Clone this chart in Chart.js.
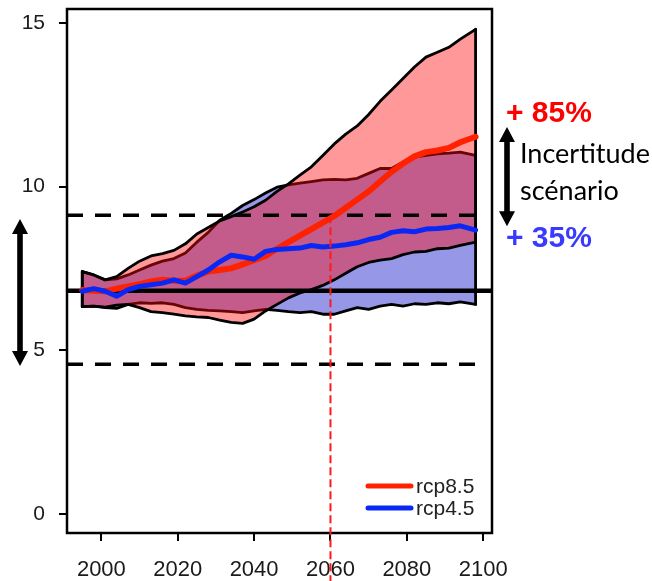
<!DOCTYPE html>
<html><head><meta charset="utf-8">
<script src="https://cdn.jsdelivr.net/npm/chart.js@4"></script>
<style>html,body{margin:0;padding:0;background:#fff}canvas{display:block}</style>
</head><body>
<canvas id="c" width="652" height="581"></canvas>
<script>
// ---- data ----
const years = [1995,1998,2001,2004,2007,2010,2013,2016,2019,2022,2025,2028,2031,2034,2037,2040,2043,2046,2049,2052,2055,2058,2061,2064,2067,2070,2073,2076,2079,2082,2085,2088,2091,2094,2098];
const rcp85Mean = [6.84,6.82,6.80,6.88,6.95,7.02,7.10,7.15,7.12,7.12,7.28,7.40,7.45,7.50,7.62,7.75,7.88,8.10,8.30,8.50,8.70,8.90,9.10,9.35,9.60,9.85,10.15,10.45,10.70,10.92,11.05,11.10,11.18,11.35,11.52];
const rcp85Low  = [6.33,6.35,6.32,6.38,6.40,6.30,6.18,6.15,6.10,6.05,6.02,6.00,5.92,5.85,5.82,5.95,6.20,6.40,6.60,6.75,6.85,6.98,7.15,7.35,7.55,7.68,7.75,7.80,7.92,8.00,8.02,8.10,8.12,8.20,8.30];
const rcp85High = [7.40,7.30,7.15,7.25,7.50,7.72,7.88,7.95,8.05,8.25,8.55,8.75,8.95,9.08,9.22,9.38,9.58,9.85,10.08,10.35,10.60,10.95,11.30,11.60,11.85,12.20,12.60,12.95,13.30,13.65,13.95,14.10,14.25,14.50,14.80];
const rcp45Mean = [6.80,6.88,6.80,6.65,6.85,6.95,7.00,7.05,7.15,7.05,7.25,7.45,7.70,7.90,7.85,7.78,8.02,8.08,8.10,8.12,8.20,8.15,8.18,8.22,8.28,8.38,8.45,8.60,8.65,8.62,8.70,8.72,8.75,8.80,8.67];
const rcp45Low  = [6.33,6.35,6.30,6.28,6.40,6.45,6.43,6.45,6.40,6.30,6.25,6.22,6.20,6.18,6.15,6.20,6.25,6.22,6.18,6.15,6.18,6.10,6.10,6.20,6.30,6.25,6.35,6.40,6.35,6.42,6.40,6.45,6.42,6.48,6.40];
const rcp45High = [7.40,7.30,7.15,7.18,7.30,7.45,7.60,7.72,7.80,7.97,8.30,8.60,8.97,9.18,9.42,9.60,9.80,9.98,10.05,10.10,10.15,10.20,10.22,10.20,10.25,10.40,10.55,10.55,10.75,10.90,10.95,11.00,11.02,11.05,10.95];
const seriesLabels = ['rcp8.5','rcp4.5'];
const xTicks = [2000,2020,2040,2060,2080,2100];
const yTicks = [0,5,10,15];
const baselineLevel = 6.82;
const dashedLevels = [9.12, 4.57];
const dashedEndYear = 2100;
const crossYear = 2060;
const leftArrow = [9.01, 4.52];
const rightArrow = [11.82, 8.79];
const changeTexts = ['+ 85%', '+ 35%'];
const uncertaintyText = ['Incertitude', 'scénario'];

// ---- helpers ----
const pts = arr => years.map((yr, i) => ({x: yr, y: arr[i]}));
const last = years.length - 1;
const edges = (lo, hi) => [
  {x: years[0], y: lo[0]}, {x: years[0], y: hi[0]}, {x: years[0], y: null},
  {x: years[last], y: hi[last]}, {x: years[last], y: lo[last]}
];
const base = {pointRadius: 0, pointHoverRadius: 0, tension: 0, fill: false,
  borderJoinStyle: 'round', borderCapStyle: 'round'};
const outline = (data, order) => Object.assign({}, base, {data, borderColor: '#000', borderWidth: 2.8, order});

const datasets = [
  Object.assign({}, base, {data: pts(rcp45Low), borderWidth: 0, order: 20}),                       // 0
  Object.assign({}, base, {data: pts(rcp45High), borderWidth: 0, order: 19,
     fill: {target: 0}, backgroundColor: 'rgba(25,25,205,0.45)'}),                                 // 1
  outline(pts(rcp45Low), 18),                                                                       // 2
  outline(pts(rcp45High), 17),                                                                      // 3
  outline(edges(rcp45Low, rcp45High), 16),                                                          // 4
  Object.assign({}, base, {data: pts(rcp85Low), borderWidth: 0, order: 15}),                        // 5
  Object.assign({}, base, {data: pts(rcp85High), borderWidth: 0, order: 14,
     fill: {target: 5}, backgroundColor: 'rgba(255,10,10,0.42)'}),                                 // 6
  outline(pts(rcp85Low), 13),                                                                       // 7
  outline(pts(rcp85High), 12),                                                                      // 8
  outline(edges(rcp85Low, rcp85High), 11),                                                          // 9
  Object.assign({}, base, {label: seriesLabels[0], data: pts(rcp85Mean), borderColor: '#ff2200', borderWidth: 6, order: 2}), // 10
  Object.assign({}, base, {label: seriesLabels[1], data: pts(rcp45Mean), borderColor: '#0a28f5', borderWidth: 5, order: 1})  // 11
];
const MEAN85 = 10, MEAN45 = 11;

function arrow(ctx, x, y1, y2) {
  const hw = 8, hh = 15, sw = 2.8;
  ctx.fillStyle = '#000';
  ctx.beginPath();
  ctx.moveTo(x, y1); ctx.lineTo(x + hw, y1 + hh); ctx.lineTo(x + sw, y1 + hh);
  ctx.lineTo(x + sw, y2 - hh); ctx.lineTo(x + hw, y2 - hh); ctx.lineTo(x, y2);
  ctx.lineTo(x - hw, y2 - hh); ctx.lineTo(x - sw, y2 - hh); ctx.lineTo(x - sw, y1 + hh);
  ctx.lineTo(x - hw, y1 + hh); ctx.closePath(); ctx.fill();
}

const decor = {
  id: 'decor',
  beforeDatasetDraw(chart, args) {
    if (args.index !== MEAN85) return;
    const {ctx, chartArea: a, scales: {x, y}} = chart;
    ctx.save();
    ctx.strokeStyle = '#000';
    ctx.lineWidth = 4.5;
    ctx.beginPath();
    const yb = y.getPixelForValue(baselineLevel);
    ctx.moveTo(a.left, yb); ctx.lineTo(a.right, yb); ctx.stroke();
    ctx.lineWidth = 3.5;
    ctx.setLineDash([16, 12]);
    dashedLevels.forEach(v => {
      const yy = y.getPixelForValue(v);
      ctx.beginPath(); ctx.moveTo(a.left, yy); ctx.lineTo(x.getPixelForValue(dashedEndYear), yy); ctx.stroke();
    });
    ctx.restore();
  },
  afterDraw(chart) {
    const {ctx, chartArea: a, scales: {x, y}} = chart;
    ctx.save();
    // frame
    ctx.strokeStyle = '#000'; ctx.lineWidth = 2.5;
    ctx.strokeRect(a.left, a.top, a.right - a.left, a.bottom - a.top);
    // red vertical dashed marker
    const vx = x.getPixelForValue(crossYear);
    ctx.strokeStyle = '#ff1a1a'; ctx.lineWidth = 2; ctx.setLineDash([8, 4]);
    ctx.beginPath(); ctx.moveTo(vx, y.getPixelForValue(dashedLevels[0])); ctx.lineTo(vx, chart.height); ctx.stroke();
    ctx.setLineDash([]);
    // arrows
    arrow(ctx, 20, y.getPixelForValue(leftArrow[0]), y.getPixelForValue(leftArrow[1]));
    arrow(ctx, 507, y.getPixelForValue(rightArrow[0]), y.getPixelForValue(rightArrow[1]));
    // texts
    ctx.textBaseline = 'alphabetic'; ctx.textAlign = 'left';
    ctx.font = 'bold 30px "Liberation Sans", Arial, sans-serif';
    ctx.fillStyle = '#ff0000'; ctx.fillText(changeTexts[0], 506, 122);
    ctx.fillStyle = '#3a3aff'; ctx.fillText(changeTexts[1], 506, 247);
    ctx.font = '27px Lato, "Open Sans", sans-serif';
    ctx.fillStyle = '#000';
    ctx.fillText(uncertaintyText[0], 520, 163);
    ctx.fillText(uncertaintyText[1], 520, 200);
    // legend
    const items = [MEAN85, MEAN45];
    ctx.font = '21px "Liberation Sans", Arial, sans-serif';
    ctx.textBaseline = 'middle';
    items.forEach((di, k) => {
      const ds = chart.data.datasets[di];
      const ly = 486 + k * 22;
      ctx.strokeStyle = ds.borderColor; ctx.lineWidth = 5; ctx.lineCap = 'round';
      ctx.beginPath(); ctx.moveTo(368, ly); ctx.lineTo(411, ly); ctx.stroke();
      ctx.fillStyle = '#222'; ctx.fillText(ds.label, 416, ly + 1);
    });
    ctx.restore();
  }
};

const zeroPad = s => { s.paddingTop = 0; s.paddingBottom = 0; s.paddingLeft = 0; s.paddingRight = 0; };

new Chart(document.getElementById('c'), {
  type: 'line',
  data: {datasets},
  options: {
    responsive: false, animation: false, devicePixelRatio: 1,
    layout: {padding: {top: 9, right: 160, left: 0, bottom: 0}},
    plugins: {legend: {display: false}, tooltip: {enabled: false}},
    events: [],
    scales: {
      x: {
        type: 'linear', min: 1991, max: 2102.3,
        afterBuildTicks: s => { s.ticks = xTicks.map(v => ({value: v})); },
        afterFit: s => { s.height = 48; zeroPad(s); },
        grid: {display: true, drawOnChartArea: false, drawTicks: true, tickLength: 8, color: '#000', lineWidth: 2},
        border: {display: false},
        ticks: {autoSkip: false, maxRotation: 0, padding: 16, color: '#1a1a1a',
          font: {family: '"Liberation Sans", Arial, sans-serif', size: 22},
          callback: v => String(v)}
      },
      y: {
        type: 'linear', min: -0.58, max: 15.42,
        afterBuildTicks: s => { s.ticks = yTicks.map(v => ({value: v})); },
        afterFit: s => { s.width = 67; zeroPad(s); },
        grid: {display: true, drawOnChartArea: false, drawTicks: true, tickLength: 8, color: '#000', lineWidth: 2},
        border: {display: false},
        ticks: {padding: 14, color: '#1a1a1a',
          font: {family: '"Liberation Sans", Arial, sans-serif', size: 21},
          callback: v => String(v)}
      }
    }
  },
  plugins: [decor]
});
</script>
</body></html>
